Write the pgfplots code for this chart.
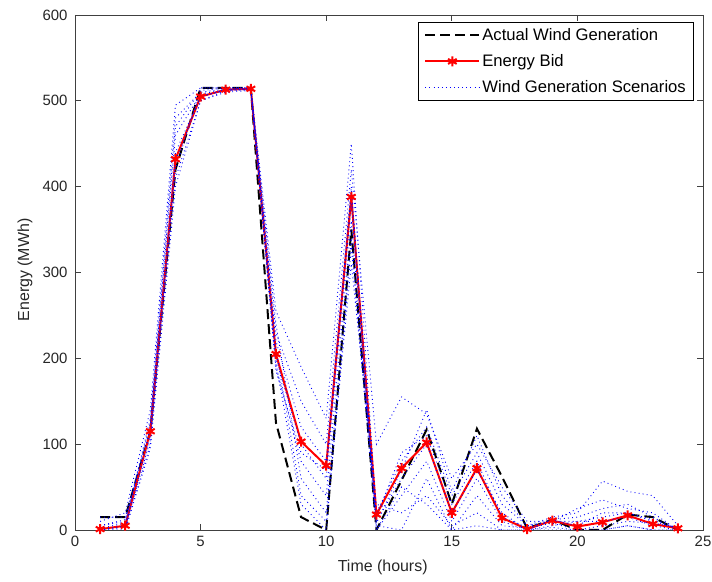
\documentclass[border=0pt]{standalone}
\usepackage{fontspec}
\setmainfont{Liberation Sans}
\usepackage{pgfplots}
\pgfplotsset{compat=1.18}
\begin{document}
\begin{tikzpicture}[x=1bp,y=1bp]
\begin{axis}[
  name=ax,
  scale only axis,
  width=628bp, height=515bp,
  xmin=0, xmax=25, ymin=0, ymax=600,
  xtick={0,5,10,15,20,25},
  ytick={0,100,200,300,400,500,600},
  tick align=inside,
  major tick length=6bp,
  axis line style={black!75, line width=0.8bp},
  every tick/.style={black!75, line width=0.8bp},
  /pgf/number format/assume math mode=true,
  tick label style={font=\fontsize{15}{17}\selectfont, text=black!85},
  yticklabel style={xshift=-4bp},
  xticklabel style={yshift=-3bp},
  label style={font=\fontsize{16}{18}\selectfont, text=black!85},
  xlabel={Time (hours)},
  ylabel={Energy (MWh)},
  xlabel style={at={(axis description cs:0.49,-0.0718)}, anchor=center},
  ylabel style={at={(axis description cs:-0.0796,0.505)}, anchor=center},
  legend style={at={(0.986,0.986)}, anchor=north east, draw=black, line width=0.8bp,
    font=\fontsize{16.7}{19}\selectfont, cells={anchor=west}, row sep=8.5bp,
    inner xsep=6bp, inner ysep=4bp},
  legend cell align=left,
  legend image code/.code={\draw[mark repeat=2,mark phase=2,#1] plot coordinates {(0bp,0bp) (27bp,0bp) (54bp,0bp)};},
  clip=true,
]
% Actual wind generation
\addplot[black, line width=2bp, dash pattern=on 10bp off 5bp] coordinates {
(1,15) (2,15) (3,115) (4,420) (5,515) (6,515) (7,515) (8,125) (9,15) (10,0)
(11,350) (12,0) (13,58) (14,117) (15,30) (16,118) (17,62) (18,2) (19,12) (20,0)
(21,0) (22,18) (23,15) (24,0)};
\addlegendentry{Actual Wind Generation}
% Energy bid
\addplot[red, line width=2bp, mark=asterisk, mark size=5bp, mark options={line width=2bp, solid}] coordinates {
(1,1) (2,5) (3,115) (4,432) (5,505) (6,513) (7,514) (8,205) (9,103) (10,75)
(11,388) (12,18) (13,72) (14,102) (15,20) (16,72) (17,14) (18,1) (19,11) (20,4)
(21,9) (22,17) (23,7) (24,2)};
\addlegendentry{Energy Bid}
% Scenarios
\pgfplotsset{scen/.style={blue, line width=0.9bp, dash pattern=on 0.9bp off 3.2bp}}
\addplot[scen] coordinates {
(1,10) (2,20) (3,140) (4,495) (5,515) (6,515) (7,515) (8,255) (9,190) (10,130)
(11,450) (12,20) (13,80) (14,120) (15,40) (16,90) (17,30) (18,5) (19,15) (20,20)
(21,57) (22,45) (23,40) (24,5)};
\addlegendentry{Wind Generation Scenarios}
\addplot[scen, forget plot] coordinates {
(1,5) (2,10) (3,120) (4,470) (5,512) (6,515) (7,515) (8,230) (9,150) (10,100)
(11,420) (12,100) (13,155) (14,135) (15,60) (16,100) (17,50) (18,10) (19,10) (20,25)
(21,35) (22,25) (23,20) (24,0)};
\addplot[scen, forget plot] coordinates {
(1,0) (2,5) (3,110) (4,440) (5,505) (6,513) (7,513) (8,220) (9,120) (10,80)
(11,400) (12,10) (13,60) (14,100) (15,20) (16,70) (17,20) (18,0) (19,12) (20,5)
(21,20) (22,20) (23,10) (24,2)};
\addplot[scen, forget plot] coordinates {
(1,15) (2,15) (3,115) (4,420) (5,515) (6,515) (7,515) (8,200) (9,100) (10,60)
(11,380) (12,0) (13,40) (14,80) (15,10) (16,60) (17,10) (18,0) (19,5) (20,10)
(21,10) (22,15) (23,5) (24,0)};
\addplot[scen, forget plot] coordinates {
(1,0) (2,0) (3,100) (4,410) (5,500) (6,510) (7,512) (8,190) (9,80) (10,40)
(11,360) (12,5) (13,0) (14,60) (15,0) (16,40) (17,5) (18,2) (19,8) (20,0)
(21,5) (22,10) (23,8) (24,3)};
\addplot[scen, forget plot] coordinates {
(1,2) (2,8) (3,130) (4,480) (5,510) (6,514) (7,514) (8,240) (9,60) (10,20)
(11,340) (12,15) (13,90) (14,110) (15,30) (16,80) (17,15) (18,3) (19,12) (20,15)
(21,25) (22,30) (23,15) (24,0)};
\addplot[scen, forget plot] coordinates {
(1,0) (2,3) (3,105) (4,430) (5,505) (6,512) (7,513) (8,210) (9,40) (10,10)
(11,310) (12,30) (13,20) (14,40) (15,5) (16,20) (17,0) (18,0) (19,3) (20,0)
(21,0) (22,5) (23,0) (24,0)};
\addplot[scen, forget plot] coordinates {
(1,5) (2,12) (3,125) (4,460) (5,508) (6,513) (7,515) (8,185) (9,90) (10,70)
(11,395) (12,8) (13,70) (14,140) (15,45) (16,110) (17,40) (18,5) (19,10) (20,10)
(21,15) (22,20) (23,12) (24,2)};
\addplot[scen, forget plot] coordinates {
(1,0) (2,0) (3,95) (4,400) (5,500) (6,512) (7,513) (8,195) (9,30) (10,0)
(11,330) (12,0) (13,50) (14,30) (15,0) (16,5) (17,0) (18,0) (19,0) (20,0)
(21,0) (22,5) (23,0) (24,0)};
\end{axis}
\pgfresetboundingbox
\path[use as bounding box] ([xshift=-75bp,yshift=-52bp]ax.south west) rectangle ([xshift=9bp,yshift=15bp]ax.north east);
\end{tikzpicture}
\end{document}
